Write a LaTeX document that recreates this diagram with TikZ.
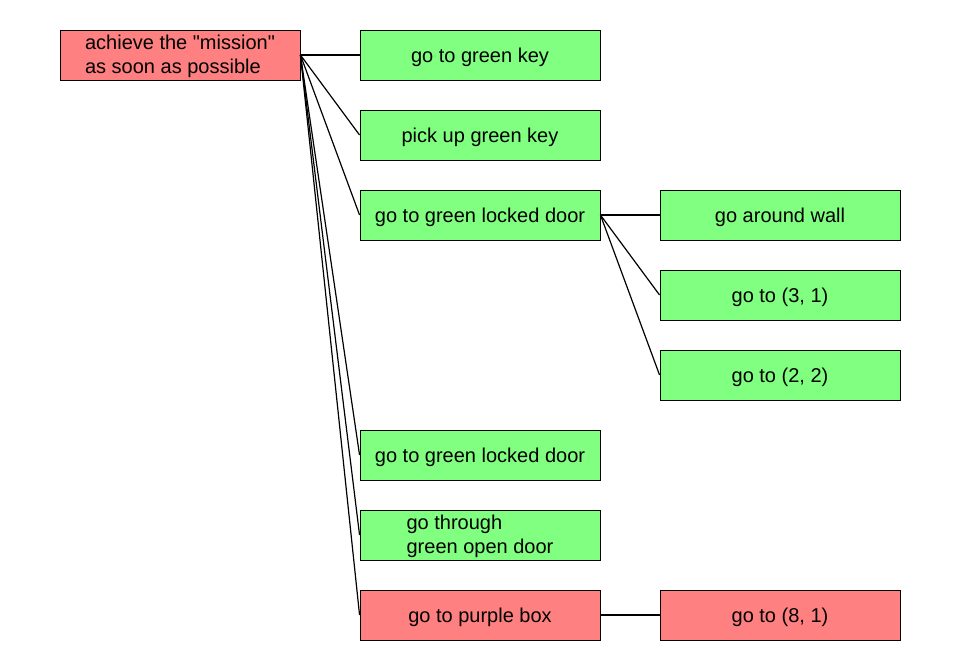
\documentclass[tikz,border=0pt]{standalone}
\usepackage{fontspec}
\setmainfont{Liberation Sans}[Ligatures=TeXOff]
\definecolor{goalred}{HTML}{FF8080}
\definecolor{goalgreen}{HTML}{80FF80}
\begin{document}
\begin{tikzpicture}[x=1pt,y=-1pt,
  goal/.style={draw=black,line width=0.9pt,minimum width=240pt,minimum height=50pt,
    inner sep=0pt,font=\fontsize{20}{24}\selectfont,align=left},
  oneline/.style={text height=15pt,text depth=1pt},
  twoline/.style={text height=40pt,text depth=4pt},
  done/.style={goal,fill=goalgreen},
  todo/.style={goal,fill=goalred},
  link/.style={draw=black,line width=1.2pt}]
\useasboundingbox (0,0) rectangle (960,670);
% top-level goal
\node[todo,twoline] (root) at (180,55) {achieve the "mission"\\as soon as possible};
% subgoals
\node[done,oneline] (k1) at (480,55) {go to green key};
\node[done,oneline] (k2) at (480,135) {pick up green key};
\node[done,oneline] (k3) at (480,215) {go to green locked door};
\node[done,oneline] (k4) at (480,455) {go to green locked door};
\node[done,twoline] (k5) at (480,535) {go through\\green open door};
\node[todo,oneline] (k6) at (480,615) {go to purple box};
% sub-subgoals
\node[done,oneline] (d1) at (780,215) {go around wall};
\node[done,oneline] (d2) at (780,295) {go to (3, 1)};
\node[done,oneline] (d3) at (780,375) {go to (2, 2)};
\node[todo,oneline] (p1) at (780,615) {go to (8, 1)};
% links
\foreach \c in {k1,k2,k3,k4,k5,k6}
  \draw[link] (root.east) -- (\c.west);
\foreach \c in {d1,d2,d3}
  \draw[link] (k3.east) -- (\c.west);
\draw[link] (k6.east) -- (p1.west);
\end{tikzpicture}
\end{document}
